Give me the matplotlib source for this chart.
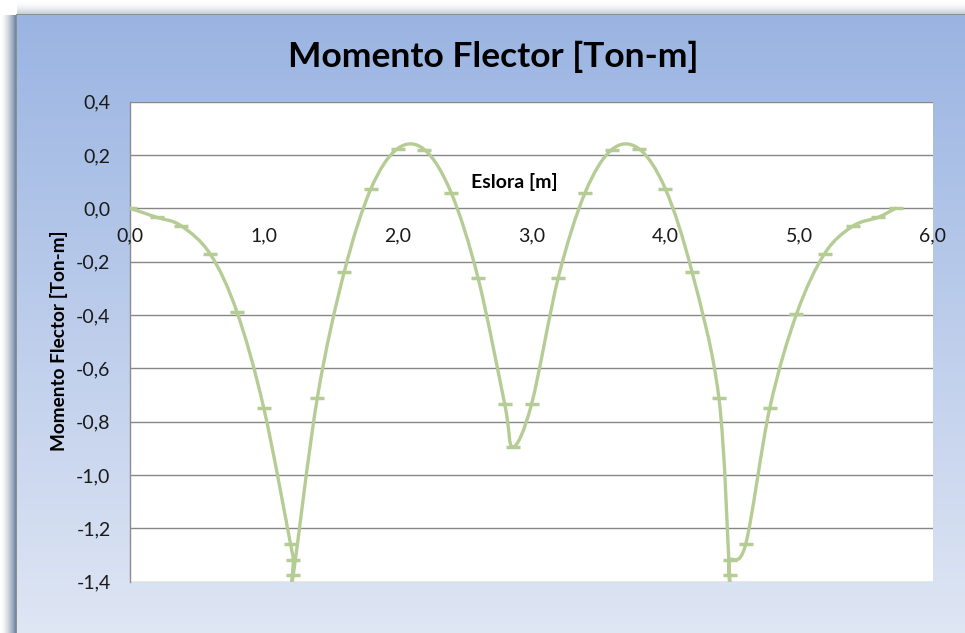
import numpy as np
import matplotlib
matplotlib.use("Agg")
import matplotlib.pyplot as plt
from matplotlib.path import Path
from matplotlib.patches import PathPatch

# ---- data ----
eslora = [0.0, 0.2, 0.38, 0.6, 0.8, 1.0, 1.2, 1.22, 1.22, 1.4, 1.6, 1.8, 2.0, 2.2,
          2.4, 2.6, 2.8, 2.86, 3.0, 3.2, 3.4, 3.6, 3.8, 4.0, 4.2, 4.4, 4.48, 4.48,
          4.6, 4.78, 4.98, 5.19, 5.4, 5.59, 5.72]
momento = [0.0, -0.034, -0.065, -0.172, -0.39, -0.75, -1.26, -1.32, -1.375, -0.71,
           -0.24, 0.073, 0.224, 0.22, 0.058, -0.26, -0.735, -0.895, -0.735, -0.26,
           0.058, 0.22, 0.224, 0.073, -0.24, -0.71, -1.375, -1.32, -1.26, -0.75,
           -0.397, -0.17, -0.067, -0.034, 0.0]
x_ticks = [0, 1, 2, 3, 4, 5, 6]
x_labels = ["0,0", "1,0", "2,0", "3,0", "4,0", "5,0", "6,0"]
y_ticks = [0.4, 0.2, 0.0, -0.2, -0.4, -0.6, -0.8, -1.0, -1.2, -1.4]
y_labels = ["0,4", "0,2", "0,0", "-0,2", "-0,4", "-0,6", "-0,8", "-1,0", "-1,2", "-1,4"]

title = "Momento Flector [Ton-m]"
xlabel = "Eslora [m]"
ylabel = "Momento Flector [Ton-m]"

plt.rcParams['font.family'] = ['Lato', 'DejaVu Sans']

W, H = 965, 633
fig = plt.figure(figsize=(W / 100, H / 100), dpi=100)

# ---- background (chart area gradient + shadow) ----
bg = np.ones((H, W, 3))
top_c = np.array([0x9A, 0xB4, 0xE2]) / 255
bot_c = np.array([0xDF, 0xE6, 0xF4]) / 255
x0, y0 = 17, 15
t = (np.arange(H) - y0) / (H - y0)
grad = top_c[None, :] * (1 - t[:, None]) + bot_c[None, :] * t[:, None]
bg[y0:, x0:, :] = grad[y0:, None, :]
shadow_c = np.array([0x66, 0x7C, 0x98]) / 255
for xi in range(0, x0):
    a = (xi / (x0 - 1)) ** 1.6
    bg[y0:, xi, :] = 1 * (1 - a) + shadow_c * a
top_sh = np.array([0xB0, 0xBA, 0xC8]) / 255
for yi in range(0, y0):
    a = (yi / (y0 - 1)) ** 2 * 0.8
    bg[yi, x0:, :] = 1 * (1 - a) + top_sh * a
bg[y0:, x0 - 1, :] = np.array([0x8A, 0x8F, 0x96]) / 255
bg[y0 - 1, x0 - 1:, :] = np.array([0x8A, 0x8F, 0x96]) / 255
bax = fig.add_axes([0, 0, 1, 1])
bax.imshow(bg, aspect='auto', extent=(0, W, H, 0), interpolation='nearest')
bax.set_xlim(0, W)
bax.set_ylim(H, 0)
bax.axis('off')

# ---- plot axes ----
left, right = 130, 933
top, bottom = 101.6, 581.7
ax = fig.add_axes([left / W, 1 - bottom / H, (right - left) / W, (bottom - top) / H])
ax.set_facecolor('white')
ax.set_xlim(0, 6)
ax.set_ylim(-1.4, 0.4)

grid_c = '#878787'
for yv in y_ticks:
    ax.axhline(yv, color=grid_c, lw=1.0, zorder=1)

for s in ['top', 'right', 'bottom']:
    ax.spines[s].set_visible(False)
ax.spines['left'].set_color('#8C8C8C')
ax.spines['left'].set_linewidth(1.0)

ax.set_yticks(y_ticks)
ax.set_yticklabels(y_labels)
ax.tick_params(axis='y', length=0, pad=14, labelsize=14, labelcolor='#1a1a1a')
ax.set_xticks(x_ticks)
ax.set_xticklabels([])
ax.tick_params(axis='x', length=0)
for xv, lab in zip(x_ticks, x_labels):
    ax.annotate(lab, xy=(xv, 0), xytext=(0, -20), textcoords='offset points',
                ha='center', va='center', fontsize=14, color='#1a1a1a',
                annotation_clip=False, zorder=3)

# ---- smoothed series (Catmull-Rom Bezier, like Excel smooth line) ----
px = np.array(eslora)
py = np.array(momento)
n = len(px)
verts = [(px[0], py[0])]
codes = [Path.MOVETO]
for i in range(n - 1):
    p0 = np.array([px[max(i - 1, 0)], py[max(i - 1, 0)]])
    p1 = np.array([px[i], py[i]])
    p2 = np.array([px[i + 1], py[i + 1]])
    p3 = np.array([px[min(i + 2, n - 1)], py[min(i + 2, n - 1)]])
    c1 = p1 + (p2 - p0) / 6
    c2 = p2 - (p3 - p1) / 6
    verts += [tuple(c1), tuple(c2), tuple(p2)]
    codes += [Path.CURVE4] * 3
line_c = '#B5CC95'
ax.add_patch(PathPatch(Path(verts, codes), facecolor='none', edgecolor=line_c,
                       lw=2.4, zorder=4, capstyle='round', joinstyle='round'))
ax.plot(px, py, linestyle='none', marker='_', markersize=9.5, markeredgewidth=2.5,
        color=line_c, zorder=5)

# ---- texts ----
fig.text(493 / W, 1 - 57 / H, title, ha='center', va='center', fontsize=25.5,
         fontweight='bold', color='black')
fig.text(514 / W, 1 - 182 / H, xlabel, ha='center', va='center', fontsize=14,
         fontweight='bold', color='black')
fig.text(59 / W, 1 - 341 / H, ylabel, ha='center', va='center', fontsize=13.7,
         fontweight='bold', color='black', rotation=90)

fig.savefig('out.png', dpi=100)
